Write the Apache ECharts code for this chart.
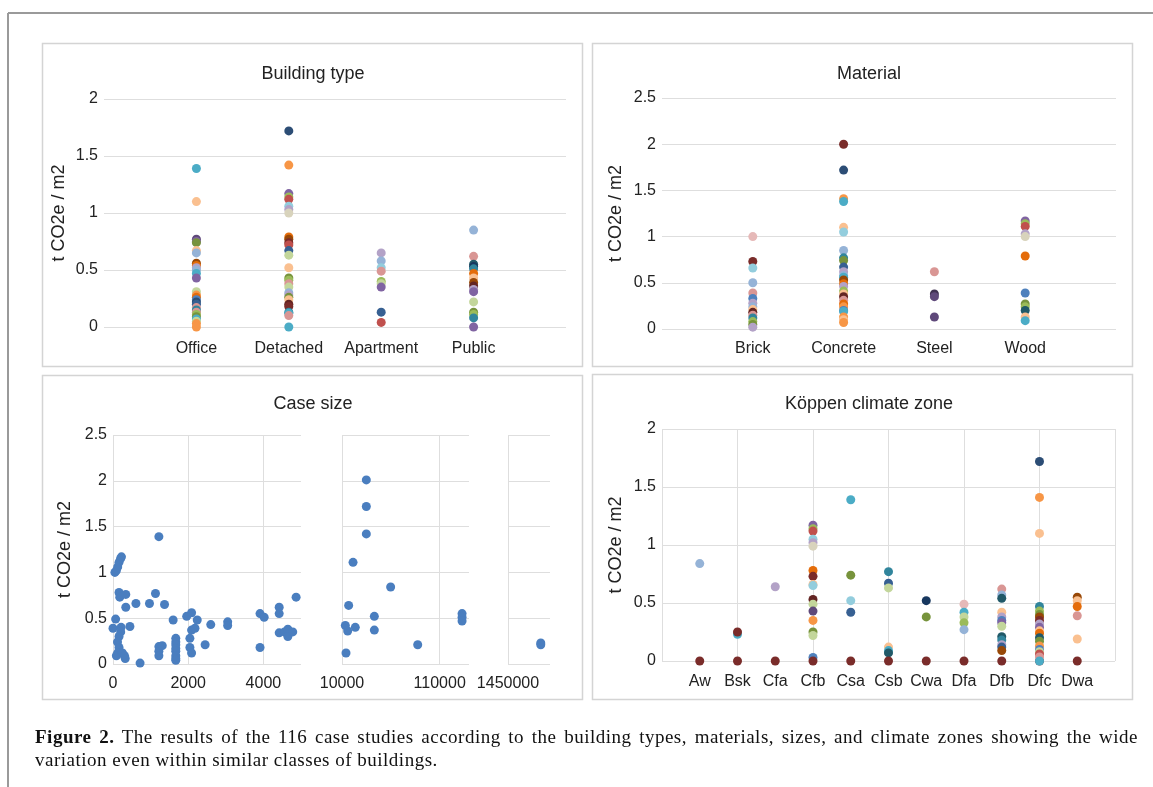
<!DOCTYPE html>
<html><head><meta charset="utf-8">
<script src="https://cdn.jsdelivr.net/npm/echarts@6/dist/echarts.min.js"></script>
<style>
html,body{margin:0;padding:0;background:#fff;}
#chart{position:absolute;left:0;top:0;width:1153px;height:787px;}
.cap{position:absolute;left:35px;font-family:'Liberation Serif','DejaVu Serif',serif;font-size:19px;letter-spacing:0.5px;color:#111;}
</style></head><body>
<div id="chart"></div>
<div class="cap" style="top:726px;width:1103px;text-align:justify;text-align-last:justify;"><b>Figure 2.</b> The results of the 116 case studies according to the building types, materials, sizes, and climate zones showing the wide</div>
<div class="cap" style="top:749px;white-space:nowrap;">variation even within similar classes of buildings.</div>
<script>
// ---------- DATA ----------
// each point: [t CO2e / m2, case-series id]
const buildingTypes = ['Office', 'Detached', 'Apartment', 'Public'];
const officePts = [[1.39,4],[1.10,17],[0.77,9],[0.75,3],[0.74,8],[0.67,17],[0.65,12],[0.56,11],[0.54,20],[0.52,15],[0.50,12],[0.47,4],[0.43,3],[0.31,14],[0.28,5],[0.26,20],[0.24,0],[0.22,6],[0.20,18],[0.17,13],[0.15,10],[0.13,13],[0.11,2],[0.09,8],[0.07,4],[0.05,14],[0.03,5],[0.00,5]];
const detachedPts = [[1.72,6],[1.42,5],[1.17,3],[1.14,2],[1.12,1],[1.06,16],[1.03,15],[1.00,19],[0.79,20],[0.77,11],[0.74,7],[0.72,1],[0.67,18],[0.63,14],[0.52,17],[0.43,8],[0.41,2],[0.38,13],[0.35,14],[0.30,12],[0.28,15],[0.26,8],[0.24,17],[0.20,21],[0.18,7],[0.13,10],[0.12,4],[0.10,13],[0.00,4]];
const apartmentPts = [[0.65,15],[0.58,12],[0.52,16],[0.49,13],[0.40,2],[0.38,14],[0.35,3],[0.13,18],[0.04,1]];
const publicPts = [[0.85,12],[0.62,13],[0.55,22],[0.53,23],[0.51,10],[0.47,20],[0.43,17],[0.39,11],[0.36,21],[0.33,15],[0.31,3],[0.22,14],[0.13,8],[0.11,2],[0.08,10],[0.00,3]];

const materials = ['Brick', 'Concrete', 'Steel', 'Wood'];
const brickPts = [[1.00,25],[0.73,7],[0.66,16],[0.50,12],[0.39,13],[0.33,0],[0.28,15],[0.24,12],[0.21,17],[0.18,21],[0.15,13],[0.12,10],[0.08,2],[0.05,8],[0.02,15]];
const concretePts = [[2.00,7],[1.72,6],[1.41,5],[1.38,4],[1.10,17],[1.05,16],[0.85,12],[0.77,10],[0.74,8],[0.67,18],[0.62,15],[0.58,12],[0.56,4],[0.53,11],[0.49,20],[0.46,15],[0.41,2],[0.38,17],[0.35,21],[0.31,13],[0.27,20],[0.24,5],[0.20,0],[0.19,4],[0.13,5],[0.10,17],[0.07,5]];
const steelPts = [[0.62,13],[0.38,24],[0.35,9],[0.13,9]];
const woodPts = [[1.17,3],[1.14,2],[1.11,1],[1.03,15],[1.00,19],[0.79,20],[0.39,0],[0.27,8],[0.24,2],[0.20,22],[0.13,17],[0.09,4]];

const climateZones = ['Aw','Bsk','Cfa','Cfb','Csa','Csb','Cwa','Dfa','Dfb','Dfc','Dwa'];
const awPts = [[0.84,12],[0,7]];
const bskPts = [[0.23,4],[0.25,7],[0,7]];
const cfaPts = [[0.64,15],[0,7]];
const cfbPts = [[1.17,3],[1.14,2],[1.12,1],[1.05,16],[1.02,15],[0.99,19],[0.78,20],[0.73,7],[0.66,17],[0.65,16],[0.53,21],[0.49,14],[0.43,9],[0.35,5],[0.25,8],[0.22,14],[0.03,0],[0,7]];
const csaPts = [[1.39,4],[0.74,8],[0.52,16],[0.42,18],[0,7]];
const csbPts = [[0.77,10],[0.67,18],[0.63,14],[0.12,17],[0.09,4],[0.07,22],[0,7]];
const cwaPts = [[0.52,23],[0.38,8],[0,7]];
const dfaPts = [[0.49,25],[0.42,4],[0.38,14],[0.33,2],[0.27,12],[0,7]];
const dfbPts = [[0.62,13],[0.57,12],[0.54,22],[0.42,17],[0.38,15],[0.35,0],[0.33,3],[0.30,14],[0.21,22],[0.18,10],[0.14,15],[0.12,18],[0.09,11],[0,7]];
const dfcPts = [[0,7],[1.72,6],[1.41,5],[1.10,17],[0.47,10],[0.43,2],[0.40,8],[0.38,11],[0.35,7],[0.32,15],[0.29,3],[0.26,17],[0.24,20],[0.20,22],[0.17,8],[0.13,5],[0.10,0],[0.08,14],[0.06,1],[0.035,13],[0,4]];
const dwaPts = [[0.55,11],[0.52,17],[0.47,20],[0.39,13],[0.19,17],[0,7]];

// case size: [floor area, t CO2e / m2]
const caseSizePts = [
  [0,0.39],[50,1.00],[90,1.02],[125,1.06],[160,1.11],[200,1.15],[225,1.17],
  [160,0.78],[180,0.73],[340,0.76],[340,0.62],[70,0.49],[215,0.40],[205,0.35],[160,0.30],[120,0.24],[160,0.18],[125,0.12],[90,0.09],[250,0.12],[305,0.09],[325,0.06],
  [450,0.41],[610,0.66],[970,0.66],[1130,0.77],[1370,0.65],[1220,1.39],[1220,0.19],[1220,0.14],[1220,0.09],[1310,0.20],[720,0.01],
  [1600,0.48],[1670,0.28],[1670,0.24],[1670,0.21],[1670,0.17],[1670,0.14],[1670,0.09],[1670,0.06],[1670,0.04],
  [1960,0.52],[2090,0.56],[2045,0.28],[2045,0.18],[2090,0.12],[2090,0.37],[2180,0.39],[2240,0.48],[2450,0.21],[2600,0.43],[3050,0.46],[3050,0.42],
  [3910,0.55],[4020,0.51],[3910,0.18],[4420,0.62],[4420,0.55],[4420,0.34],[4560,0.35],[4650,0.38],[4650,0.30],[4780,0.35],[4870,0.73],
  [34900,2.01],[34900,1.72],[34900,1.42],[21300,1.11],[59800,0.84],[16800,0.64],[43100,0.52],[13400,0.42],[15800,0.36],[23600,0.40],[43100,0.37],[87500,0.21],[14100,0.12],[132900,0.55],[132900,0.51],[132900,0.47],
  [1567000,0.23],[1567000,0.21]
];
const sizeTicksA = [0, 2000, 4000];
const sizeTicksB = [10000, 110000];
const sizeTicksC = [1450000];

// ---------- STYLE ----------
const caseColors = ['#4F81BD','#C0504D','#9BBB59','#8064A2','#4BACC6','#F79646','#2C4D75','#7A2C2A','#77933C','#5F497A',
  '#31859C','#984807','#95B3D7','#D99694','#C3D69B','#B3A2C7','#93CDDD','#FAC090','#376092','#D8D3BC',
  '#E46C0A','#632523','#215968','#17375E','#3F3151','#E6B9B8'];
const FONT = "'Liberation Sans', Arial, sans-serif";
const TXT = '#222';
const GRID = '#dedede';
const DOT = 9;

function catData(groups) {
  const out = [];
  groups.forEach((pts, i) => pts.forEach(p => out.push({value: [i + 1, p[0]], itemStyle: {color: caseColors[p[1]]}})));
  return out;
}
const sizeA = caseSizePts.filter(p => p[0] < 10000);
const sizeB = caseSizePts.filter(p => p[0] >= 10000 && p[0] < 1450000);
const sizeC = caseSizePts.filter(p => p[0] >= 1450000);

const yLab = {fontSize: 16, color: TXT, fontFamily: FONT, margin: 6};
const gridLine = {show: true, lineStyle: {color: GRID, width: 1}};
function yAxis(gi, max, named, showLabels, gap) {
  return {
    type: 'value', gridIndex: gi, min: 0, max: max, interval: 0.5,
    axisLine: {show: false}, axisTick: {show: false},
    axisLabel: Object.assign({}, yLab, {show: showLabels}),
    splitLine: gridLine,
    name: named ? 't CO2e / m2' : '', nameLocation: 'middle', nameGap: gap,
    nameTextStyle: {fontSize: 18, color: TXT, fontFamily: FONT}
  };
}
function catX(gi, names, margin) {
  return {
    type: 'value', gridIndex: gi, min: 0, max: 5, interval: 1,
    axisLine: {show: false}, axisTick: {show: false, customValues: [1,2,3,4]}, splitLine: {show: false},
    axisLabel: {customValues: [1,2,3,4], formatter: v => names[v - 1] || '', fontSize: 16, color: TXT, fontFamily: FONT, margin: margin}
  };
}
const sizeLab = {fontSize: 16, color: TXT, fontFamily: FONT, margin: 12, formatter: v => String(v)};

const titleStyle = {fontSize: 18, fontWeight: 'normal', color: TXT, fontFamily: FONT};
const panelBox = (x, y, w, h) => ({type: 'rect', shape: {x: x, y: y, width: w, height: h}, style: {fill: 'none', stroke: '#d4d4d4', lineWidth: 1.5}, silent: true});
const dot = {opacity: 1};

const option = {
  animation: false,
  backgroundColor: '#fff',
  graphic: [
    {type: 'line', shape: {x1: 8, y1: 13, x2: 1153, y2: 13}, style: {stroke: '#9a9a9a', lineWidth: 2}},
    {type: 'line', shape: {x1: 8, y1: 13, x2: 8, y2: 787}, style: {stroke: '#9a9a9a', lineWidth: 2}},
    panelBox(42.5, 43.5, 540, 323),
    panelBox(592.5, 43.5, 540, 323),
    panelBox(42.5, 375.5, 540, 324),
    panelBox(592.5, 374.5, 540, 325)
  ],
  title: [
    {text: 'Building type', left: 313, top: 65, textAlign: 'center', padding: 0, textStyle: titleStyle},
    {text: 'Material', left: 869, top: 65, textAlign: 'center', padding: 0, textStyle: titleStyle},
    {text: 'Case size', left: 313, top: 395, textAlign: 'center', padding: 0, textStyle: titleStyle},
    {text: 'Köppen climate zone', left: 869, top: 395, textAlign: 'center', padding: 0, textStyle: titleStyle}
  ],
  grid: [
    {left: 104, top: 99, width: 462, height: 228},
    {left: 662, top: 98, width: 454, height: 231},
    {left: 113, top: 435, width: 188, height: 229},
    {left: 342, top: 435, width: 127, height: 229},
    {left: 508, top: 435, width: 42, height: 229},
    {left: 662, top: 429, width: 453, height: 232}
  ],
  xAxis: [
    catX(0, buildingTypes, 14),
    catX(1, materials, 12),
    {type: 'value', gridIndex: 2, min: 0, max: 5000, interval: 2000,
     axisLine: {show: false}, axisTick: {show: false},
     axisLabel: Object.assign({showMaxLabel: false}, sizeLab),
     splitLine: {show: true, showMaxLine: false, lineStyle: {color: GRID}}},
    {type: 'value', gridIndex: 3, min: 10000, max: 140000,
     axisLine: {show: false}, axisTick: {show: false, customValues: sizeTicksB},
     axisLabel: Object.assign({customValues: sizeTicksB}, sizeLab),
     splitLine: {show: true, lineStyle: {color: GRID}}},
    {type: 'value', gridIndex: 4, min: 1450000, max: 1600000,
     axisLine: {show: false}, axisTick: {show: false, customValues: sizeTicksC},
     axisLabel: Object.assign({customValues: sizeTicksC}, sizeLab),
     splitLine: {show: true, lineStyle: {color: GRID}}},
    {type: 'value', gridIndex: 5, min: 0, max: 12, interval: 2,
     axisLine: {show: false}, axisTick: {show: false},
     axisLabel: {customValues: [1,2,3,4,5,6,7,8,9,10,11], formatter: v => climateZones[v - 1] || '', fontSize: 16, color: TXT, fontFamily: FONT, margin: 13},
     splitLine: {show: true, lineStyle: {color: GRID}}}
  ],
  yAxis: [
    yAxis(0, 2, true, true, 36),
    yAxis(1, 2.5, true, true, 37),
    yAxis(2, 2.5, true, true, 39),
    yAxis(3, 2.5, false, false, 0),
    yAxis(4, 2.5, false, false, 0),
    yAxis(5, 2, true, true, 37)
  ],
  series: [
    {type: 'scatter', xAxisIndex: 0, yAxisIndex: 0, symbolSize: DOT, itemStyle: dot, data: catData([officePts, detachedPts, apartmentPts, publicPts])},
    {type: 'scatter', xAxisIndex: 1, yAxisIndex: 1, symbolSize: DOT, itemStyle: dot, data: catData([brickPts, concretePts, steelPts, woodPts])},
    {type: 'scatter', xAxisIndex: 2, yAxisIndex: 2, symbolSize: DOT, itemStyle: {color: '#4A7EBF', opacity: 1}, data: sizeA},
    {type: 'scatter', xAxisIndex: 3, yAxisIndex: 3, symbolSize: DOT, itemStyle: {color: '#4A7EBF', opacity: 1}, data: sizeB},
    {type: 'scatter', xAxisIndex: 4, yAxisIndex: 4, symbolSize: DOT, itemStyle: {color: '#4A7EBF', opacity: 1}, data: sizeC},
    {type: 'scatter', xAxisIndex: 5, yAxisIndex: 5, symbolSize: DOT, itemStyle: dot, data: catData([awPts, bskPts, cfaPts, cfbPts, csaPts, csbPts, cwaPts, dfaPts, dfbPts, dfcPts, dwaPts])}
  ]
};
const chart = echarts.init(document.getElementById('chart'), null, {renderer: 'canvas'});
chart.setOption(option);
</script>
</body></html>
